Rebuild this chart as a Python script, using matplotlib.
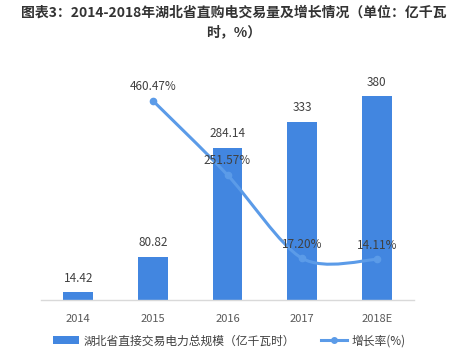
"""
湖北省直购电交易量及增长情况 (2014-2018E)
Bar = total direct-trading power, line = growth rate.
"""

import matplotlib
matplotlib.use('Agg')
import matplotlib.pyplot as plt
from matplotlib.path import Path
from matplotlib.patches import PathPatch
from matplotlib.lines import Line2D
from matplotlib.patches import Patch
import numpy as np

plt.rcParams['font.family'] = ['Noto Sans CJK SC', 'DejaVu Sans']

# data
years = ['2014', '2015', '2016', '2017', '2018E']
volume = [14.42, 80.82, 284.14, 333, 380]
growth_years = ['2015', '2016', '2017', '2018E']
growth = [460.47, 251.57, 17.20, 14.11]

title = '图表3：2014-2018年湖北省直购电交易量及增长情况（单位：亿千瓦\n时，%）'
bar_label = '湖北省直接交易电力总规模（亿千瓦时）'
line_label = '增长率(%)'

BAR_COLOR = '#4286E0'
LINE_COLOR = '#5B9BE8'
TEXT_COLOR = '#404040'


def smooth_path(xs, ys, k=0.15):
    """Bezier path through the points (echarts-like smooth line)"""
    pts = np.column_stack([xs, ys]).astype(float)
    n = len(pts)
    verts = [pts[0]]
    codes = [Path.MOVETO]
    for i in range(n - 1):
        p_prev = pts[i - 1] if i > 0 else pts[i]
        p_next2 = pts[i + 2] if i + 2 < n else pts[i + 1]
        c1 = pts[i] + (pts[i + 1] - p_prev) * k
        c2 = pts[i + 1] - (p_next2 - pts[i]) * k
        verts += [c1, c2, pts[i + 1]]
        codes += [Path.CURVE4] * 3
    return Path(verts, codes)


fig = plt.figure(figsize=(4.68, 3.57), dpi=100)
ax = fig.add_axes([41 / 468, 57 / 357, 373 / 468, 240 / 357])
ax2 = ax.twinx()

x = np.arange(len(years))
bars = ax.bar(x, volume, width=0.4, color=BAR_COLOR, zorder=2)
ax.set_xlim(-0.5, len(years) - 0.5)
ax.set_ylim(0, 448)

for xi, v in zip(x, volume):
    ax.text(xi, v + 14, f'{v:g}' if v >= 100 and v == int(v) else f'{v:.2f}',
            ha='center', va='bottom', fontsize=8.5, color=TEXT_COLOR)

# growth line
gx = np.array([years.index(y) for y in growth_years])
ax2.set_ylim(-100, 575)
patch = PathPatch(smooth_path(gx, growth), facecolor='none',
                  edgecolor=LINE_COLOR, linewidth=2.2, zorder=3)
ax2.add_patch(patch)
ax2.plot(gx, growth, 'o', color=LINE_COLOR, markersize=4.5, zorder=4)
for xi, g in zip(gx, growth):
    ax2.text(xi, g + 22, f'{g:.2f}%', ha='center', va='bottom',
             fontsize=8.5, color=TEXT_COLOR, zorder=5)

# axes styling
for a in (ax, ax2):
    for s in a.spines.values():
        s.set_visible(False)
    a.set_yticks([])
ax.spines['bottom'].set_visible(True)
ax.spines['bottom'].set_color('#D9D9D9')
ax.spines['bottom'].set_linewidth(1)
ax.set_xticks(x)
ax.set_xticklabels(years, fontsize=8, color='#595959')
ax.tick_params(axis='x', length=0, pad=10)

fig.text(0.5, 0.985, title, ha='center', va='top', fontsize=10,
         fontweight='bold', color='#333333', linespacing=1.5)

handles = [Patch(facecolor=BAR_COLOR, edgecolor='none'),
           Line2D([0], [0], color=LINE_COLOR, linewidth=2.2, marker='o',
                  markersize=4)]
fig.legend(handles, [bar_label, line_label], loc='center',
           bbox_to_anchor=(0.49, 0.045), ncol=2, frameon=False,
           fontsize=8.5, handlelength=2.2, handleheight=0.7,
           columnspacing=2.2, handletextpad=0.4, labelcolor='#404040')

plt.savefig('out.png', dpi=100)
